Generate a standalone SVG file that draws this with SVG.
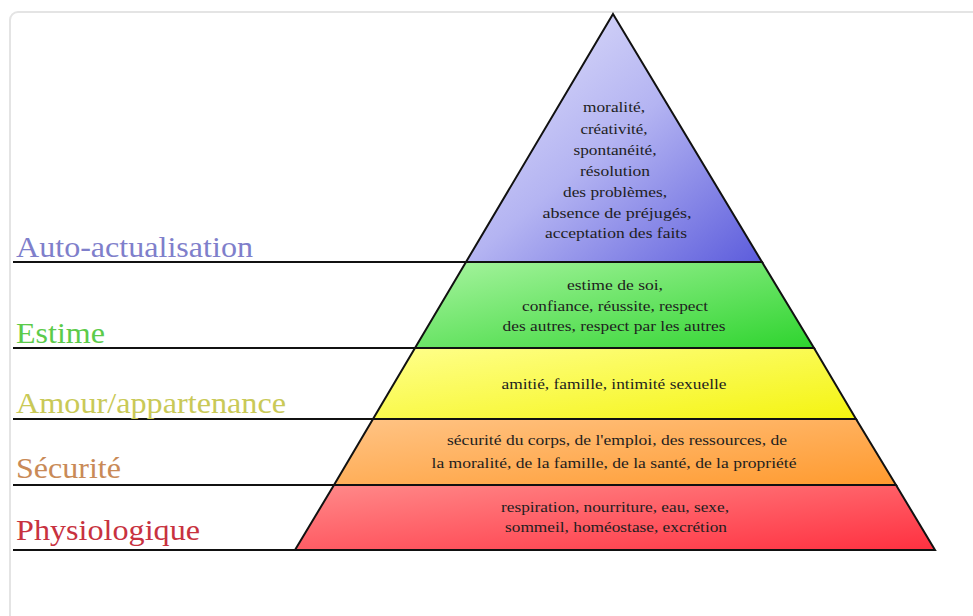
<svg xmlns="http://www.w3.org/2000/svg" width="973" height="616" viewBox="0 0 973 616">
  <defs>
    <linearGradient id="gBlue" x1="0" y1="0" x2="1" y2="1">
      <stop offset="0" stop-color="#e6e6fb"/>
      <stop offset="0.5" stop-color="#b4b4f2"/>
      <stop offset="1" stop-color="#5c5cdc"/>
    </linearGradient>
    <linearGradient id="gGreen" x1="0" y1="0" x2="1" y2="1">
      <stop offset="0" stop-color="#a8f4a0"/>
      <stop offset="1" stop-color="#2ed42e"/>
    </linearGradient>
    <linearGradient id="gYellow" x1="0" y1="0" x2="1" y2="1">
      <stop offset="0" stop-color="#ffff8c"/>
      <stop offset="1" stop-color="#f4f410"/>
    </linearGradient>
    <linearGradient id="gOrange" x1="0" y1="0" x2="1" y2="1">
      <stop offset="0" stop-color="#ffc486"/>
      <stop offset="1" stop-color="#ff9a2e"/>
    </linearGradient>
    <linearGradient id="gRed" x1="0" y1="0" x2="1" y2="1">
      <stop offset="0" stop-color="#ff8a8a"/>
      <stop offset="1" stop-color="#ff3040"/>
    </linearGradient>
  </defs>
  <style>
    .layer { stroke: #111; stroke-width: 2; stroke-linejoin: miter; }
    .rule { stroke: #111; stroke-width: 2; fill: none; }
    .label { font-family: "Liberation Serif", serif; font-size: 30px; }
    .body { font-family: "Liberation Serif", serif; font-size: 15.5px; fill: #1e1e1e; text-anchor: middle; }
  </style>

  <!-- page background and card frame -->
  <rect x="0" y="0" width="973" height="616" fill="#ffffff"/>
  <rect x="10" y="12" width="1000" height="700" rx="8" fill="#ffffff" stroke="#e4e4e4" stroke-width="2"/>

  <!-- level rules running left of the pyramid -->
  <g id="rules">
    <line class="rule" x1="13" y1="262" x2="466" y2="262"/>
    <line class="rule" x1="13" y1="348" x2="415" y2="348"/>
    <line class="rule" x1="13" y1="419" x2="373" y2="419"/>
    <line class="rule" x1="13" y1="485" x2="334" y2="485"/>
    <line class="rule" x1="13" y1="550" x2="295" y2="550"/>
  </g>

  <!-- level 5 -->
  <g id="auto-actualisation">
    <polygon class="layer" fill="url(#gBlue)" points="613,14 762,262 466,262"/>
    <text class="label" x="16" y="257" fill="#7f7fcb" textLength="237" lengthAdjust="spacingAndGlyphs">Auto-actualisation</text>
    <text class="body" x="614" y="112" textLength="62" lengthAdjust="spacingAndGlyphs">moralité,</text>
    <text class="body" x="614" y="134" textLength="67" lengthAdjust="spacingAndGlyphs">créativité,</text>
    <text class="body" x="615" y="155" textLength="83" lengthAdjust="spacingAndGlyphs">spontanéité,</text>
    <text class="body" x="615" y="176" textLength="70" lengthAdjust="spacingAndGlyphs">résolution</text>
    <text class="body" x="615" y="197" textLength="104" lengthAdjust="spacingAndGlyphs">des problèmes,</text>
    <text class="body" x="617" y="218" textLength="149" lengthAdjust="spacingAndGlyphs">absence de préjugés,</text>
    <text class="body" x="616" y="238" textLength="142" lengthAdjust="spacingAndGlyphs">acceptation des faits</text>
  </g>

  <!-- level 4 -->
  <g id="estime">
    <polygon class="layer" fill="url(#gGreen)" points="466,262 762,262 814,348 415,348"/>
    <text class="label" x="16" y="343" fill="#5ccb4a" textLength="89" lengthAdjust="spacingAndGlyphs">Estime</text>
    <text class="body" x="615" y="290" textLength="96" lengthAdjust="spacingAndGlyphs">estime de soi,</text>
    <text class="body" x="615" y="311" textLength="186" lengthAdjust="spacingAndGlyphs">confiance, réussite, respect</text>
    <text class="body" x="614" y="331" textLength="223" lengthAdjust="spacingAndGlyphs">des autres, respect par les autres</text>
  </g>

  <!-- level 3 -->
  <g id="amour-appartenance">
    <polygon class="layer" fill="url(#gYellow)" points="415,348 814,348 856,419 373,419"/>
    <text class="label" x="16" y="413" fill="#c9c957" textLength="270" lengthAdjust="spacingAndGlyphs">Amour/appartenance</text>
    <text class="body" x="614" y="389" textLength="225" lengthAdjust="spacingAndGlyphs">amitié, famille, intimité sexuelle</text>
  </g>

  <!-- level 2 -->
  <g id="securite">
    <polygon class="layer" fill="url(#gOrange)" points="373,419 856,419 896,485 334,485"/>
    <text class="label" x="16" y="478" fill="#c98a57" textLength="105" lengthAdjust="spacingAndGlyphs">Sécurité</text>
    <text class="body" x="617" y="445" textLength="340" lengthAdjust="spacingAndGlyphs">sécurité du corps, de l'emploi, des ressources, de</text>
    <text class="body" x="614" y="468" textLength="365" lengthAdjust="spacingAndGlyphs">la moralité, de la famille, de la santé, de la propriété</text>
  </g>

  <!-- level 1 -->
  <g id="physiologique">
    <polygon class="layer" fill="url(#gRed)" points="334,485 896,485 935,550 295,550"/>
    <text class="label" x="16" y="540" fill="#c8323f" textLength="184" lengthAdjust="spacingAndGlyphs">Physiologique</text>
    <text class="body" x="615" y="512" textLength="228" lengthAdjust="spacingAndGlyphs">respiration, nourriture, eau, sexe,</text>
    <text class="body" x="616" y="532" textLength="222" lengthAdjust="spacingAndGlyphs">sommeil, homéostase, excrétion</text>
  </g>
</svg>
